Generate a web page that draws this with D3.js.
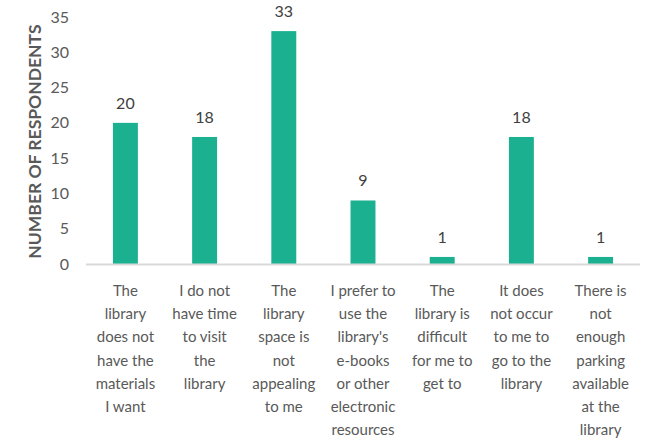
<!DOCTYPE html>
<html>
<head>
<meta charset="utf-8">
<script src="https://cdn.jsdelivr.net/npm/d3@7"></script>
<style>
  body { margin: 0; background: #fff; }
  svg text { font-family: Lato, "Open Sans", sans-serif; }
</style>
</head>
<body>
<div id="chart"></div>
<script>
// reasons given and number of respondents
const categories = [
    ["The", "library", "does not", "have the", "materials", "I want"],
    ["I do not", "have time", "to visit", "the", "library"],
    ["The", "library", "space is", "not", "appealing", "to me"],
    ["I prefer to", "use the", "library's", "e-books", "or other", "electronic", "resources"],
    ["The", "library is", "difficult", "for me to", "get to"],
    ["It does", "not occur", "to me to", "go to the", "library"],
    ["There is", "not", "enough", "parking", "available", "at the", "library"]
];
const respondents = [20, 18, 33, 9, 1, 18, 1];
const yTicks = [0, 5, 10, 15, 20, 25, 30, 35];

const margin = {top: 17, right: 14, bottom: 177, left: 86};
const width = 654 - margin.left - margin.right;
const height = 441 - margin.top - margin.bottom;

const svg = d3.select("#chart")
    .append("svg")
    .attr("width", 654)
    .attr("height", 441)
    .append("g")
    .attr("transform", "translate(" + margin.left + "," + margin.top + ")");

const x = d3.scaleBand()
    .domain(d3.range(categories.length))
    .range([0, width])
    .paddingInner(0.685)
    .paddingOuter(0.34);

const y = d3.scaleLinear()
    .domain([0, 35])
    .range([height, 0]);

// y axis, no line, just labels
const yAxis = svg.append("g")
    .call(d3.axisLeft(y).tickValues(yTicks).tickSize(0).tickPadding(17));
yAxis.select(".domain").remove();
yAxis.selectAll("text")
    .attr("fill", "#595959")
    .style("font-size", "16px");

// bars
svg.append("g")
    .selectAll("rect")
    .data(respondents)
    .enter()
    .append("rect")
    .attr("x", (d, i) => x(i))
    .attr("y", d => y(d))
    .attr("width", x.bandwidth())
    .attr("height", d => height - y(d))
    .attr("fill", "#1bb190");

// x axis line
svg.append("line")
    .attr("x1", 0)
    .attr("x2", width)
    .attr("y1", height + 0.5)
    .attr("y2", height + 0.5)
    .attr("stroke", "#d9d9d9")
    .attr("stroke-width", 2);

// value labels
svg.append("g")
    .selectAll("text")
    .data(respondents)
    .enter()
    .append("text")
    .attr("x", (d, i) => x(i) + x.bandwidth() / 2)
    .attr("y", d => y(d) - 14)
    .attr("text-anchor", "middle")
    .attr("fill", "#404040")
    .style("font-size", "16px")
    .text(d => d);

// category labels, wrapped like the original
const catLabels = svg.append("g")
    .selectAll("text")
    .data(categories)
    .enter()
    .append("text")
    .attr("text-anchor", "middle")
    .attr("fill", "#595959")
    .style("font-size", "15px")
    .attr("transform", (d, i) => "translate(" + (x(i) + x.bandwidth() / 2) + "," + (height + 32) + ")");

catLabels.selectAll("tspan")
    .data(d => d)
    .enter()
    .append("tspan")
    .attr("x", 0)
    .attr("y", (d, j) => j * 23.2)
    .text(d => d);

// y axis title
svg.append("text")
    .attr("transform", "translate(" + (-45) + "," + (height / 2 + 1) + ") rotate(-90)")
    .attr("text-anchor", "middle")
    .attr("fill", "#595959")
    .style("font-size", "17.5px")
    .style("font-weight", "bold")
    .text("NUMBER OF RESPONDENTS");
</script>
</body>
</html>
